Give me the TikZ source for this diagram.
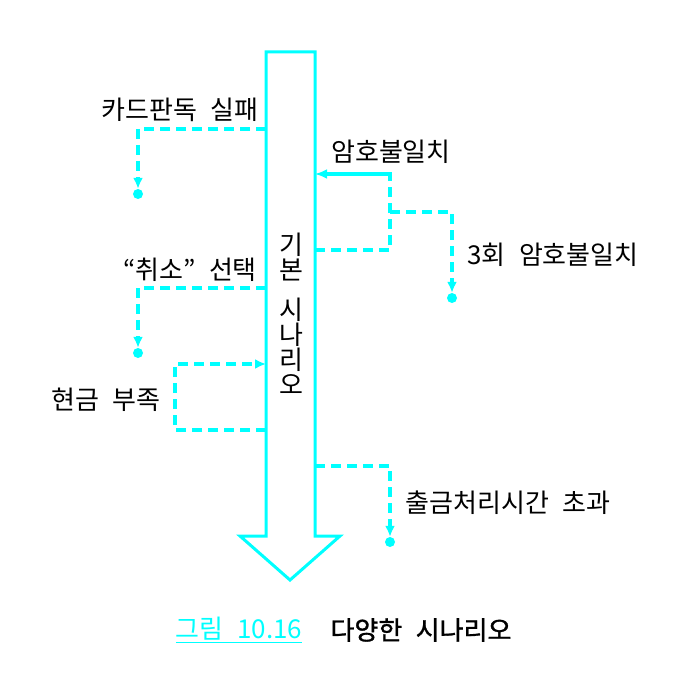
\documentclass[tikz,border=0pt]{standalone}
\usepackage{fontspec}
\newfontfamily\kr[WordSpace=2.3]{Noto Sans CJK KR}
\newfontfamily\krheavy[WordSpace=2.3,FakeBold=1.2]{Noto Sans CJK KR}
\usetikzlibrary{arrows.meta}
\definecolor{scncyan}{HTML}{00FFFF}
\tikzset{
  shaft/.style={draw=scncyan, line width=3pt, line join=miter, fill=white},
  flow/.style={scncyan, line width=3.5pt, dash pattern=on 10pt off 6pt,
    -{Latex[length=11pt,width=10pt]}},
  back/.style={scncyan, line width=3.5pt, -{Latex[length=12pt,width=10pt]}},
  enddot/.style={circle, fill=scncyan, inner sep=0pt, minimum size=10pt},
  lbl/.style={font=\kr\fontsize{26}{25}\selectfont, inner sep=0pt}
}
\begin{document}
\begin{tikzpicture}[x=1pt,y=-1pt]
    \useasboundingbox (0,0) rectangle (695,687);

    % basic scenario
    \draw[shaft] (266,52) -- (315,52) -- (315,536) -- (340,536) -- (290,580)
                 -- (240,536) -- (266,536) -- cycle;
    \node[lbl, align=center] (main) at (291,314)
         {기\\본\\[15pt]시\\나\\리\\오};

    % left side
    \node[lbl] (card) at (180,110) {카드판독 실패};
    \coordinate (cardout)  at (266,129);
    \coordinate (cardturn) at (138,129);
    \node[enddot] (cardend) at (138,194) {};
    \draw[flow] (cardout) -- (cardturn) -- (cardend);

    \node[lbl] (cancel) at (190,270) {“취소” 선택};
    \coordinate (cancelout)  at (266,288);
    \coordinate (cancelturn) at (138,288);
    \node[enddot] (cancelend) at (138,353) {};
    \draw[flow] (cancelout) -- (cancelturn) -- (cancelend);

    \node[lbl] (cash) at (106,400) {현금 부족};
    \coordinate (cashout) at (266,430);
    \coordinate (cashin)  at (266,364);
    \draw[flow] (cashout) -- (175,430) -- (175,364) -- (cashin);

    % right side
    \node[lbl] (pin) at (391,152) {암호불일치};
    \coordinate (pinout)  at (315,250);
    \coordinate (pinturn) at (390,174);
    \coordinate (pinin)   at (315,174);
    \draw[flow, -] (pinout) -- (390,250) -- (pinturn);
    \draw[back] (392,174) -- (pinin);

    \node[lbl] (pin3) at (553,255) {3회 암호불일치};
    \coordinate (pin3out) at (390,212);
    \node[enddot] (pin3end) at (452,298) {};
    \draw[flow] (pin3out) -- (452,212) -- (pin3end);

    \node[lbl] (timeout) at (508,503) {출금처리시간 초과};
    \coordinate (timeoutout) at (315,466);
    \node[enddot] (timeoutend) at (390,542) {};
    \draw[flow] (timeoutout) -- (390,466) -- (timeoutend);

    % caption
    \node[lbl, text=scncyan] (fignum) at (239,630) {\underline{그림 10.16}};
    \node[lbl, font=\krheavy\fontsize{26}{25}\selectfont] (figtitle) at (421,630) {다양한 시나리오};
\end{tikzpicture}
\end{document}
